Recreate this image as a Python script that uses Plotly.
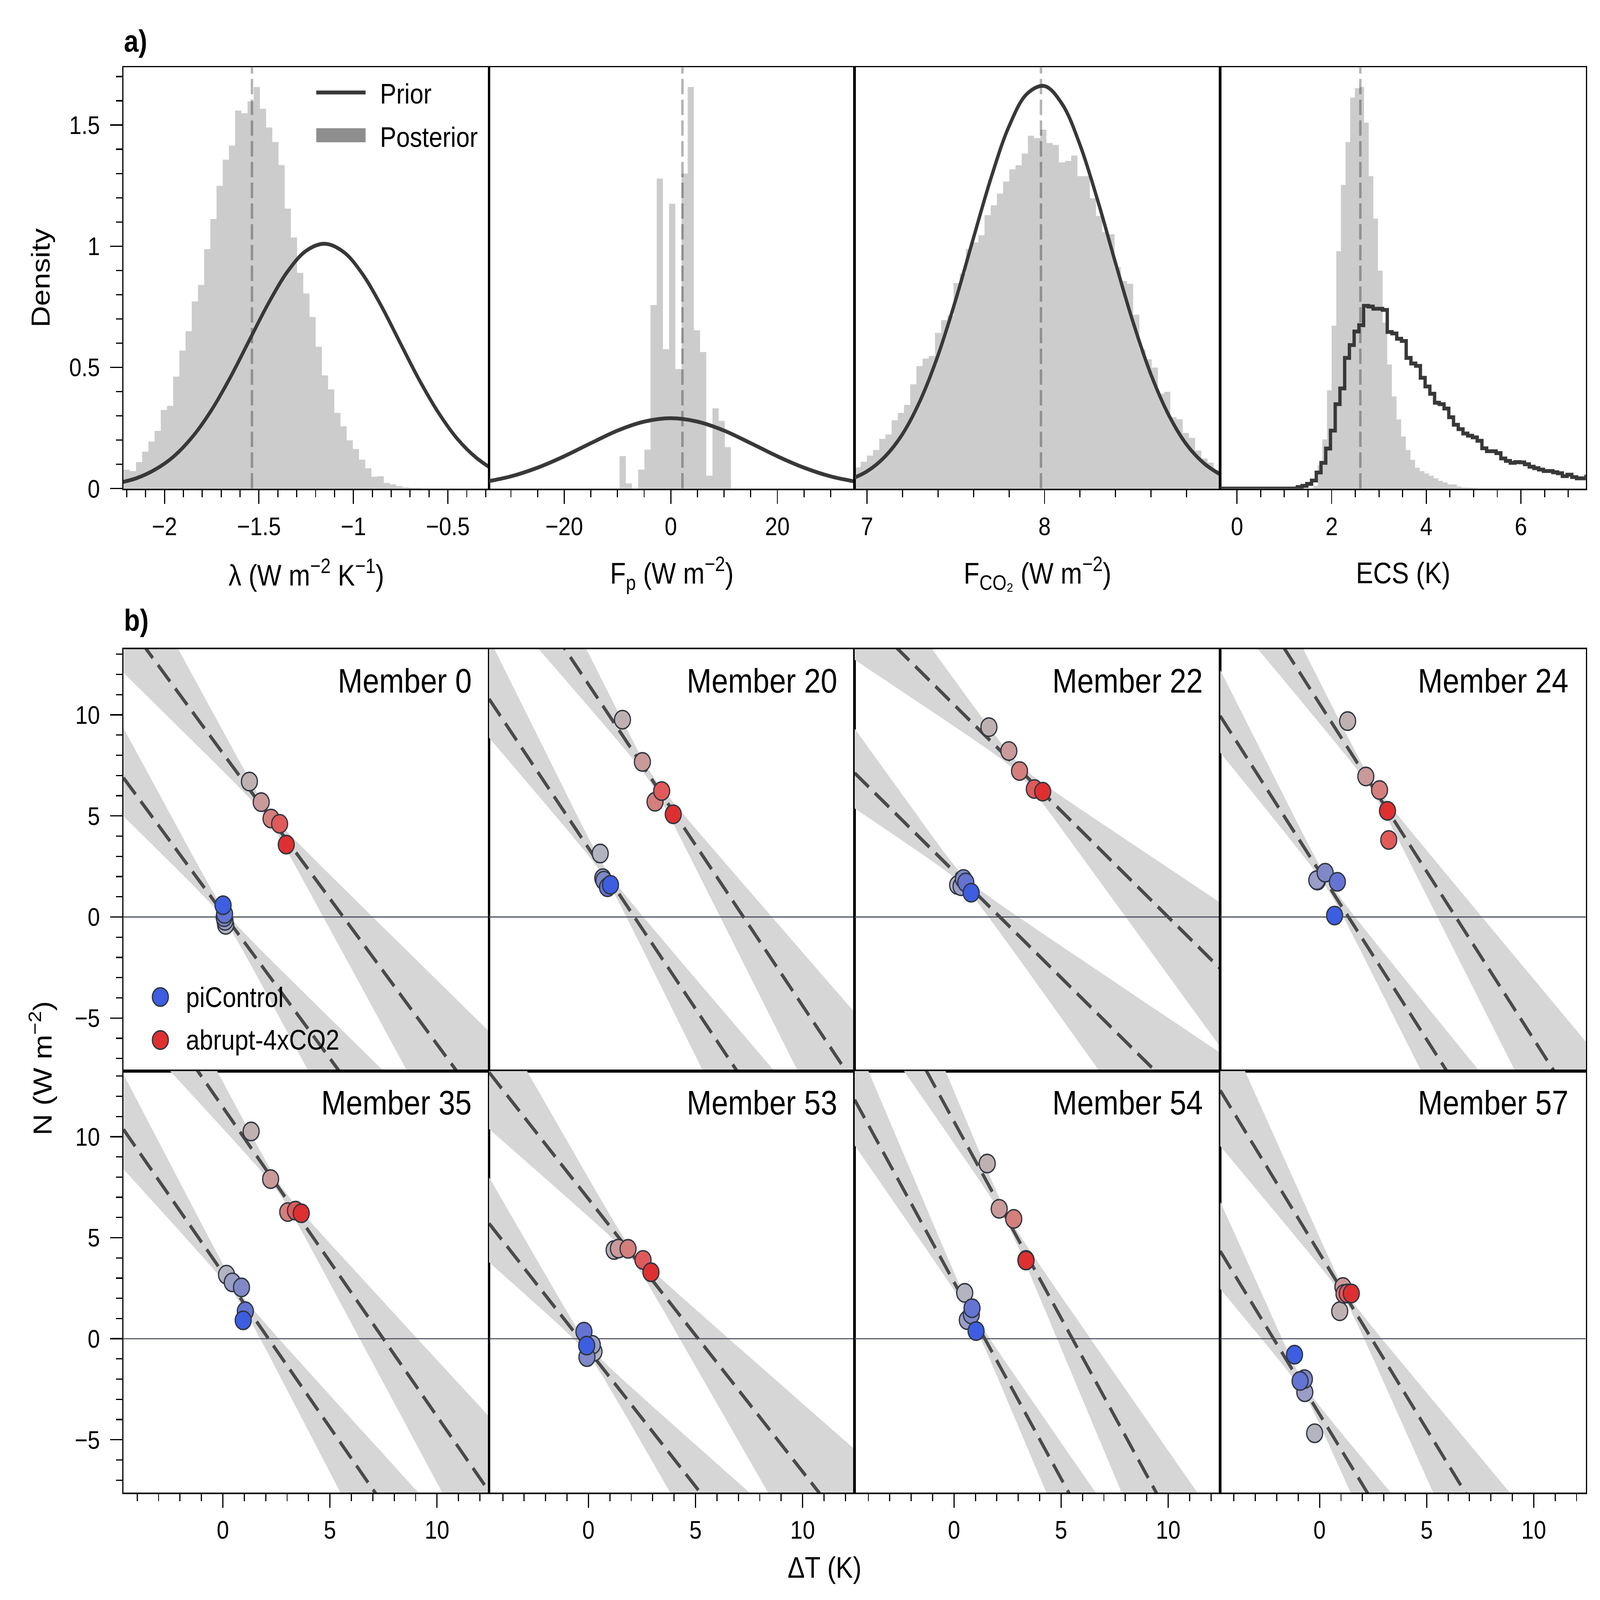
import numpy as np
import plotly.graph_objects as go

# ---------------- page geometry ----------------
W, H = 7204, 6246
FONT = "Liberation Sans, Arial, Helvetica, sans-serif"


def px(x):
    return x / W


def py(y):
    return 1 - y / H


# ---------------- panel a) data ----------------
density_range = [0.0, 1.738]
lam_range = [-2.217, -0.282]
fp_range = [-34.1, 34.5]
fco2_range = [6.93, 8.99]
ecs_range = [-0.355, 7.37]

# prior curves
lam_prior_x = [-2.25, -2.15, -2.05, -1.95, -1.85, -1.75, -1.65, -1.55, -1.45, -1.35, -1.25,
               -1.15, -1.05, -0.95, -0.85, -0.75, -0.65, -0.55, -0.45, -0.35, -0.25]
lam_prior_y = [0.022, 0.042, 0.078, 0.133, 0.215, 0.325, 0.461, 0.613, 0.764, 0.894, 0.981,
               1.010, 0.975, 0.883, 0.750, 0.597, 0.446, 0.313, 0.205, 0.127, 0.073]

fp_prior_x = [-35, -30, -25, -20, -15, -10, -5, 0, 5, 10, 15, 20, 25, 30, 35]
fp_prior_y = [0.027, 0.050, 0.086, 0.133, 0.187, 0.239, 0.276, 0.290, 0.276, 0.239, 0.187,
              0.133, 0.086, 0.050, 0.027]

fco2_prior_x = [6.9, 7.0, 7.1, 7.2, 7.3, 7.4, 7.5, 7.6, 7.7, 7.8, 7.9, 8.0, 8.1, 8.2, 8.3,
                8.4, 8.5, 8.6, 8.7, 8.8, 8.9, 9.0]
fco2_prior_y = [0.036, 0.071, 0.131, 0.225, 0.364, 0.550, 0.780, 1.035, 1.285, 1.495, 1.628,
                1.661, 1.586, 1.418, 1.188, 0.931, 0.684, 0.470, 0.303, 0.182, 0.103, 0.054]

ecs_prior_start = -0.425
ecs_prior_width = 0.1
ecs_prior_density = [0.0] * 17 + [
    0.006, 0.011, 0.019, 0.033, 0.066, 0.106, 0.165, 0.239, 0.348, 0.413, 0.539, 0.592,
    0.648, 0.674, 0.754, 0.751, 0.742, 0.742, 0.737, 0.646, 0.640, 0.618, 0.609, 0.539,
    0.516, 0.506, 0.457, 0.421, 0.391, 0.354, 0.348, 0.330, 0.294, 0.263, 0.245, 0.227,
    0.218, 0.211, 0.197, 0.166, 0.154, 0.154, 0.146, 0.124, 0.114, 0.106, 0.109, 0.108,
    0.100, 0.090, 0.084, 0.078, 0.072, 0.072, 0.067, 0.063, 0.051, 0.057, 0.047, 0.042,
    0.042, 0.049]

# posterior histograms
lam_post_start = -2.2165
lam_post_width = 0.0328
lam_post_density = [0.078, 0.072, 0.109, 0.152, 0.194, 0.238, 0.324, 0.341, 0.462, 0.569,
                    0.649, 0.772, 0.840, 0.988, 1.112, 1.249, 1.357, 1.415, 1.560, 1.549,
                    1.598, 1.657, 1.567, 1.490, 1.430, 1.335, 1.155, 1.036, 0.890, 0.805,
                    0.708, 0.585, 0.467, 0.409, 0.312, 0.257, 0.199, 0.163, 0.119, 0.084,
                    0.049, 0.051, 0.023, 0.017, 0.010, 0.005, 0.003, 0.002]

fp_post_start = -9.61
fp_post_width = 1.162
fp_post_density = [0.134, 0.021, 0.0, 0.078, 0.160, 0.757, 1.279, 0.575, 1.175, 0.493,
                   1.300, 1.657, 0.653, 0.563, 0.053, 0.331, 0.279, 0.171]

fco2_post_start = 6.929
fco2_post_width = 0.0349
fco2_post_density = [0.087, 0.110, 0.136, 0.159, 0.205, 0.223, 0.282, 0.312, 0.345, 0.430,
                     0.505, 0.536, 0.547, 0.642, 0.695, 0.714, 0.848, 0.886, 0.988, 1.016,
                     1.045, 1.128, 1.169, 1.217, 1.267, 1.317, 1.334, 1.382, 1.456, 1.446,
                     1.481, 1.426, 1.418, 1.346, 1.352, 1.374, 1.289, 1.289, 1.198, 1.125,
                     1.058, 1.049, 0.913, 0.856, 0.845, 0.717, 0.573, 0.533, 0.499, 0.391,
                     0.399, 0.294, 0.286, 0.229, 0.209, 0.157, 0.124, 0.107, 0.075]

ecs_post_start = 1.607
ecs_post_width = 0.098
ecs_post_density = [0.010, 0.096, 0.203, 0.405, 0.672, 0.979, 1.253, 1.430, 1.613, 1.652,
                    1.657, 1.510, 1.289, 1.114, 0.899, 0.685, 0.512, 0.380, 0.285, 0.215,
                    0.159, 0.118, 0.086, 0.072, 0.062, 0.053, 0.042, 0.032, 0.025, 0.017,
                    0.017, 0.008, 0.004, 0.004, 0.002]

post_medians = [-1.537, 2.19, 7.980, 2.606]

# ---------------- panel b) data ----------------
b_xrange = [-4.64, 12.43]
b_yrange = [-7.62, 13.25]
members = ["Member 0", "Member 20", "Member 22", "Member 24",
           "Member 35", "Member 53", "Member 54", "Member 57"]
slopes = [-1.44, -1.59, -1.05, -1.66, -1.53, -1.35, -1.945, -1.74]
f_pi = [0.20, 3.41, 2.25, 2.24, 3.26, -0.56, 2.80, -3.74]
f_4x = [8.10, 11.51, 10.50, 10.55, 11.46, 6.92, 10.75, 4.22]

pi_T = [[0.13, 0.10, 0.06, 0.08, 0.01],
        [0.55, 0.67, 0.72, 0.89, 1.03],
        [0.17, 0.33, 0.44, 0.55, 0.80],
        [-0.10, -0.13, 0.26, 0.83, 0.70],
        [0.17, 0.44, 0.87, 1.05, 0.95],
        [0.26, 0.18, -0.07, -0.21, -0.08],
        [0.50, 0.62, 0.81, 0.84, 1.03],
        [-0.23, -0.69, -0.71, -0.91, -1.17]]
pi_N = [[-0.39, -0.19, -0.01, 0.15, 0.58],
        [3.14, 1.92, 1.80, 1.47, 1.59],
        [1.58, 1.52, 1.88, 1.71, 1.20],
        [1.80, 1.82, 2.19, 1.74, 0.07],
        [3.17, 2.79, 2.54, 1.36, 0.91],
        [-0.64, -0.30, -0.91, 0.35, -0.34],
        [2.27, 0.92, 1.20, 1.51, 0.38],
        [-4.68, -2.65, -2.00, -2.09, -0.79]]
ab_T = [[1.24, 1.79, 2.25, 2.65, 2.96],
        [1.59, 2.52, 3.11, 3.42, 3.96],
        [1.63, 2.56, 3.06, 3.75, 4.14],
        [1.31, 2.16, 2.80, 3.23, 3.17],
        [1.32, 2.23, 3.03, 3.39, 3.66],
        [1.20, 1.40, 1.85, 2.55, 2.92],
        [1.55, 2.11, 2.79, 3.36, 3.36],
        [0.94, 1.09, 1.14, 1.29, 1.48]]
ab_N = [[6.70, 5.68, 4.87, 4.61, 3.58],
        [9.76, 7.67, 5.70, 6.23, 5.08],
        [9.39, 8.21, 7.22, 6.33, 6.20],
        [9.69, 6.95, 6.28, 3.81, 5.25],
        [10.26, 7.90, 6.27, 6.34, 6.21],
        [4.39, 4.46, 4.45, 3.90, 3.29],
        [8.67, 6.43, 5.93, 3.90, 3.87],
        [1.36, 2.56, 2.22, 2.24, 2.24]]

# uncertainty band description: pivot (narrowest point), spread of the slope on
# the steeper side / shallower side, and half width at the pivot
pivot_pi = [0.07, 0.80, 0.45, 0.40, 0.70, 0.00, 0.75, -0.70]
pivot_4x = [2.10, 2.90, 3.00, 2.40, 2.70, 2.00, 2.50, 1.20]
steep_pi = [0.52, 0.55, 0.43, 0.45, 0.51, 0.49, 0.56, 0.62]
shallow_pi = [0.40, 0.35, 0.34, 0.355, 0.365, 0.41, 0.415, 0.47]
steep_4x = [0.51, 0.52, 0.41, 0.445, 0.45, 0.50, 0.585, 0.63]
shallow_4x = [0.40, 0.37, 0.345, 0.39, 0.38, 0.42, 0.42, 0.47]
waist = 0.25

pi_colors = ["#b3b4c0", "#9a9dc6", "#8089c6", "#6474d2", "#3d5ee0"]
ab_colors = ["#bfb1b2", "#c99a99", "#d47f7b", "#e05a5a", "#de3030"]

# ---------------- layout geometry (page pixels) ----------------
col_l = [556, 2202, 3848, 5494]
col_r = [2202, 3848, 5494, 7140]
row_a = (263, 1907)
rows_b = [(2534, 4181), (4181, 5827)]

TICKF = dict(family=FONT, size=100, color="black")
AXLINE = dict(showline=True, mirror=True, linecolor="black", linewidth=5.5,
              showgrid=False, zeroline=False)


def axis(dom, rng, anchor, show, dtick=None, mdtick=None, standoff=18):
    d = dict(domain=dom, range=rng, anchor=anchor, tickfont=TICKF, **AXLINE)
    if show:
        d.update(ticks="outside", ticklen=54, tickwidth=5, tickcolor="black",
                 dtick=dtick, tick0=0, showticklabels=True, ticklabelstandoff=standoff,
                 minor=dict(ticks="outside", dtick=mdtick, tick0=0, ticklen=28,
                            tickwidth=4.5, tickcolor="black", showgrid=False))
    else:
        d.update(ticks="", showticklabels=False)
    return d


fig = go.Figure()
layout = dict(width=W, height=H, margin=dict(l=0, r=0, t=0, b=0, autoexpand=False),
              paper_bgcolor="white", plot_bgcolor="white", showlegend=False,
              font=dict(family=FONT, color="black"))
annotations = []
shapes = []

# ---------------- panel a) ----------------
a_ranges = [lam_range, fp_range, fco2_range, ecs_range]
a_dticks = [(0.5, 0.1), (20, 5), (1, 0.2), (2, 0.5)]
a_titles = ["λ (W m<sup>−2</sup> K<sup>−1</sup>)", "F<sub>p</sub> (W m<sup>−2</sup>)",
            "F<sub>CO₂</sub> (W m<sup>−2</sup>)", "ECS (K)"]
post_sets = [(lam_post_start, lam_post_width, lam_post_density),
             (fp_post_start, fp_post_width, fp_post_density),
             (fco2_post_start, fco2_post_width, fco2_post_density),
             (ecs_post_start, ecs_post_width, ecs_post_density)]
prior_curves = [(lam_prior_x, lam_prior_y), (fp_prior_x, fp_prior_y),
                (fco2_prior_x, fco2_prior_y), None]

for i in range(4):
    xa = "x" if i == 0 else f"x{i + 1}"
    ya = "y" if i == 0 else f"y{i + 1}"
    xkey = "xaxis" if i == 0 else f"xaxis{i + 1}"
    ykey = "yaxis" if i == 0 else f"yaxis{i + 1}"
    xdom = [px(col_l[i]), px(col_r[i])]
    ydom = [py(row_a[1]), py(row_a[0])]
    layout[xkey] = axis(xdom, a_ranges[i], ya, True, *a_dticks[i], standoff=2)
    layout[ykey] = axis(ydom, density_range, xa, i == 0, 0.5, 0.1, standoff=26)

    # posterior median (light dashed line, under the histogram)
    fig.add_trace(go.Scatter(x=[post_medians[i]] * 2, y=density_range, mode="lines",
                             line=dict(color="#b4b4b4", width=11, dash="60px,21px"),
                             xaxis=xa, yaxis=ya, hoverinfo="skip"))
    # posterior histogram
    start, width, dens = post_sets[i]
    edges = start + width * np.arange(len(dens) + 1)
    fig.add_trace(go.Scatter(x=edges, y=list(dens) + [dens[-1]], mode="lines",
                             line=dict(width=0, shape="hv"), fill="tozeroy",
                             fillcolor="rgba(0,0,0,0.2)", xaxis=xa, yaxis=ya,
                             hoverinfo="skip"))
    # prior
    if prior_curves[i] is not None:
        px_, py_ = prior_curves[i]
        fig.add_trace(go.Scatter(x=px_, y=py_, mode="lines",
                                 line=dict(color="#383838", width=15, shape="spline"),
                                 xaxis=xa, yaxis=ya, hoverinfo="skip"))
    else:
        e = ecs_prior_start + ecs_prior_width * np.arange(len(ecs_prior_density) + 1)
        fig.add_trace(go.Scatter(x=e, y=ecs_prior_density + [ecs_prior_density[-1]],
                                 mode="lines", line=dict(color="#383838", width=15, shape="hv"),
                                 xaxis=xa, yaxis=ya, hoverinfo="skip"))
    annotations.append(dict(text=a_titles[i], x=px((col_l[i] + col_r[i]) / 2), y=py(2237),
                            xref="paper", yref="paper", showarrow=False, xanchor="center",
                            yanchor="middle", font=dict(family=FONT, size=116, color="black")))

# legend of panel a
shapes.append(dict(type="line", xref="paper", yref="paper", x0=px(1424), x1=px(1646),
                   y0=py(361), y1=py(361), line=dict(color="#383838", width=15)))
shapes.append(dict(type="line", xref="paper", yref="paper", x0=px(1424), x1=px(1646),
                   y0=py(528), y1=py(528), line=dict(color="#8e8e8e", width=55)))
for txt, yy in [("Prior", 366), ("Posterior", 534)]:
    annotations.append(dict(text=txt, x=px(1709), y=py(yy), xref="paper", yref="paper",
                            showarrow=False, xanchor="left", yanchor="middle",
                            font=dict(family=FONT, size=110, color="black")))

# ---------------- panel b) ----------------
xg = np.linspace(b_xrange[0], b_xrange[1], 400)


def band_poly(slope, F, x0, steep, shallow):
    line = F + slope * xg
    d = xg - x0
    up = np.where(d < 0, steep, shallow)
    lo = np.where(d < 0, shallow, steep)
    upper = line + np.sqrt(waist ** 2 + (up * d) ** 2)
    lower = line - np.sqrt(waist ** 2 + (lo * d) ** 2)
    return np.concatenate([xg, xg[::-1]]), np.concatenate([upper, lower[::-1]])


for k in range(8):
    r, c = divmod(k, 4)
    n = 5 + k
    xa, ya = f"x{n}", f"y{n}"
    xdom = [px(col_l[c]), px(col_r[c])]
    ydom = [py(rows_b[r][1]), py(rows_b[r][0])]
    layout[f"xaxis{n}"] = axis(xdom, b_xrange, ya, r == 1, 5, 1, standoff=0)
    layout[f"yaxis{n}"] = axis(ydom, b_yrange, xa, c == 0, 5, 1, standoff=26)

    for F, x0, st, sh in [(f_pi[k], pivot_pi[k], steep_pi[k], shallow_pi[k]),
                          (f_4x[k], pivot_4x[k], steep_4x[k], shallow_4x[k])]:
        bx, by = band_poly(slopes[k], F, x0, st, sh)
        fig.add_trace(go.Scatter(x=bx, y=by, mode="lines", line=dict(width=0),
                                 fill="toself", fillcolor="#d6d6d6", xaxis=xa, yaxis=ya,
                                 hoverinfo="skip"))
    # zero line
    fig.add_trace(go.Scatter(x=b_xrange, y=[0, 0], mode="lines",
                             line=dict(color="#4a505c", width=4.5), xaxis=xa, yaxis=ya,
                             hoverinfo="skip"))
    for F in (f_pi[k], f_4x[k]):
        xs = np.array(b_xrange)
        fig.add_trace(go.Scatter(x=xs, y=F + slopes[k] * xs, mode="lines",
                                 line=dict(color="#4a4a4a", width=14, dash="84px,36px"),
                                 xaxis=xa, yaxis=ya, hoverinfo="skip"))
    fig.add_trace(go.Scatter(x=pi_T[k], y=pi_N[k], mode="markers",
                             marker=dict(size=72, color=pi_colors[:len(pi_T[k])],
                                         line=dict(color="#2f3540", width=5.5)),
                             xaxis=xa, yaxis=ya, name="piControl"))
    fig.add_trace(go.Scatter(x=ab_T[k], y=ab_N[k], mode="markers",
                             marker=dict(size=72, color=ab_colors[:len(ab_T[k])],
                                         line=dict(color="#2f3540", width=5.5)),
                             xaxis=xa, yaxis=ya, name="abrupt-4xCO2"))
    annotations.append(dict(text=members[k], x=1 - 76 / 1646, y=1 - 122 / 1646,
                            xref=f"{xa} domain", yref=f"{ya} domain", showarrow=False,
                            xanchor="right", yanchor="middle",
                            font=dict(family=FONT, size=134, color="black")))

# legend of panel b (drawn in page pixels)
for col, yy, txt in [(pi_colors[-1], 3892, "piControl"), (ab_colors[-1], 4060, "abrupt-4xCO2")]:
    shapes.append(dict(type="circle", xref="paper", yref="paper", xsizemode="pixel",
                       ysizemode="pixel", xanchor=px(722), yanchor=py(yy), x0=-36, x1=36,
                       y0=-36, y1=36, fillcolor=col, line=dict(color="#2f3540", width=5.5)))
    annotations.append(dict(text=txt, x=px(835), y=py(yy), xref="paper", yref="paper",
                            showarrow=False, xanchor="left", yanchor="middle",
                            font=dict(family=FONT, size=110, color="black")))

# shared labels
annotations += [
    dict(text="Density", x=px(184), y=py(1085), textangle=-90),
    dict(text="N (W m<sup>−2</sup>)", x=px(184), y=py(4170), textangle=-90),
    dict(text="ΔT (K)", x=px(3712), y=py(6119)),
]
for a in annotations[-3:]:
    a.update(xref="paper", yref="paper", showarrow=False, xanchor="center", yanchor="middle",
             font=dict(family=FONT, size=116, color="black"))
annotations += [
    dict(text="<b>a)</b>", x=px(556), y=py(161), xref="paper", yref="paper", showarrow=False,
         xanchor="left", yanchor="middle", font=dict(family=FONT, size=118, color="black")),
    dict(text="<b>b)</b>", x=px(556), y=py(2421), xref="paper", yref="paper", showarrow=False,
         xanchor="left", yanchor="middle", font=dict(family=FONT, size=118, color="black")),
]

layout["annotations"] = annotations
layout["shapes"] = shapes
fig.update_layout(**layout)

# fit the fixed-size figure into whatever window the page is opened in
fit_js = """
var gd = document.getElementById('{plot_id}');
document.documentElement.style.margin = '0';
document.body.style.margin = '0';
document.documentElement.style.overflow = 'hidden';
document.body.style.overflow = 'hidden';
var sx = window.innerWidth / %d, sy = window.innerHeight / %d;
gd.style.transformOrigin = '0 0';
gd.style.transform = 'scale(' + sx + ',' + sy + ')';
""" % (W, H)
fig.write_html("out.html", post_script=fit_js, config={"displayModeBar": False})
